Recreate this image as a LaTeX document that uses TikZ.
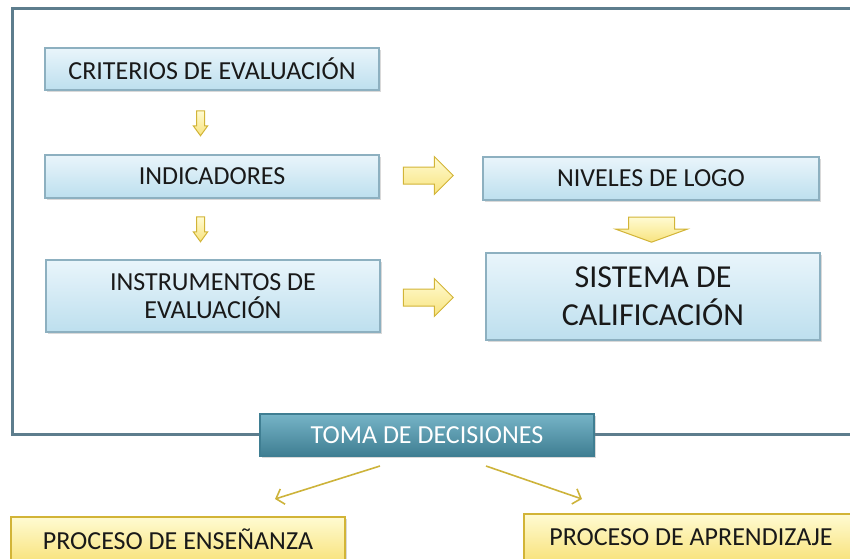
\documentclass[tikz,border=0pt]{standalone}
\usepackage{fontspec}
\setmainfont{Carlito}
\usetikzlibrary{shapes.arrows,shadows,arrows.meta}

\definecolor{marco}{HTML}{5D7D8D}
\definecolor{azulsup}{HTML}{E9F5FB}
\definecolor{azulinf}{HTML}{BDDFEE}
\definecolor{azulbor}{HTML}{8DB0C0}
\definecolor{tomasup}{HTML}{76B4C7}
\definecolor{tomainf}{HTML}{3F7E92}
\definecolor{amasup}{HTML}{FFFBD2}
\definecolor{amainf}{HTML}{F8E37E}
\definecolor{amabor}{HTML}{D2B437}
\definecolor{linea}{HTML}{CDB33A}

\tikzset{
  caja/.style={draw=azulbor, line width=0.6pt, top color=azulsup, bottom color=azulinf,
    minimum width=167pt, inner sep=0pt, align=center, text=black!90,
    font=\fontsize{13}{14}\selectfont,
    drop shadow={opacity=0.3, shadow xshift=0.8pt, shadow yshift=-1pt}},
  toma/.style={caja, draw=tomainf, top color=tomasup, bottom color=tomainf, text=white},
  proc/.style={caja, draw=amabor, top color=amasup, bottom color=amainf},
  flechabloque/.style={single arrow, draw=amabor, line width=0.5pt, top color=amasup,
    bottom color=amainf, inner xsep=0pt, shading angle=0},
  flecha/.style={linea, line width=0.8pt, -{Straight Barb[length=3.5pt,width=8pt]}}
}

\begin{document}
\begin{tikzpicture}[x=0.5pt,y=-0.5pt]
  \clip (0,0) rectangle (850,558);
  \draw[marco, line width=1.5pt] (880,8) -| (12,434) -- (880,434);

  \node[caja, minimum height=21pt]   (crit) at (212,69)    {CRITERIOS DE EVALUACIÓN};
  \node[caja, minimum height=21.5pt] (ind)  at (212,176.5) {INDICADORES};
  \node[caja, minimum height=36pt]   (inst) at (213,296)   {INSTRUMENTOS DE\\EVALUACIÓN};
  \node[caja, minimum width=168pt, minimum height=21.5pt] (niv) at (651,178.5) {NIVELES DE LOGO};
  \node[caja, minimum height=43.5pt, font=\fontsize{16}{19}\selectfont]
                                     (sis)  at (653,296.5) {SISTEMA DE\\CALIFICACIÓN};
  \node[toma, minimum height=21pt]   (tom)  at (427,435)   {TOMA DE DECISIONES};
  \node[proc, minimum height=22pt]   (ens)  at (178,539)   {PROCESO DE ENSEÑANZA};
  \node[proc, minimum height=23pt]   (apr)  at (691,537)   {PROCESO DE APRENDIZAJE};

  % flechas amarillas
  \node[flechabloque, rotate=-90, minimum height=12.5pt, inner ysep=1.75pt,
        single arrow head extend=1.6pt, single arrow tip angle=72] (f1) at (200.5,120.5) {};
  \node[flechabloque, rotate=-90, minimum height=12.5pt, inner ysep=1.75pt,
        single arrow head extend=1.6pt, single arrow tip angle=72] (f2) at (200.5,226.5) {};
  \node[flechabloque, minimum height=25pt, inner ysep=4pt,
        single arrow head extend=5.25pt] (f3) at (424,175.5) {};
  \node[flechabloque, minimum height=25pt, inner ysep=4pt,
        single arrow head extend=5.25pt] (f4) at (424,297.5) {};
  \node[flechabloque, rotate=-90, minimum height=12.5pt, inner ysep=11.25pt,
        single arrow head extend=6.5pt, single arrow tip angle=140] (f5) at (651.5,225.5) {};

  \coordinate (t1) at (380,466);
  \coordinate (e1) at (275,499);
  \coordinate (t2) at (486,466);
  \coordinate (a1) at (582,499);
  \draw[flecha] (t1) -- (e1);
  \draw[flecha] (t2) -- (a1);
\end{tikzpicture}
\end{document}
